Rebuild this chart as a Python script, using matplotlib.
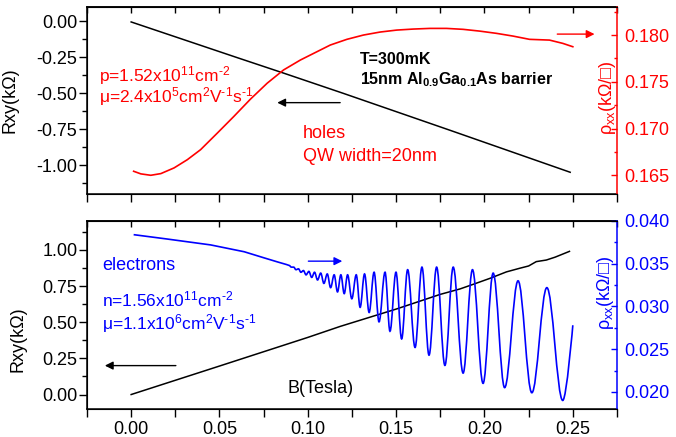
"""Hall / rho_xx traces for the hole and electron QW samples (two stacked panels)."""
import matplotlib
matplotlib.use("Agg")
import matplotlib.pyplot as plt
from matplotlib.path import Path
from matplotlib.patches import PathPatch
from matplotlib.ticker import MultipleLocator

plt.rcParams["font.family"] = ["Liberation Sans", "DejaVu Sans"]
plt.rcParams["mathtext.fontset"] = "custom"
plt.rcParams["mathtext.rm"] = "Liberation Sans"
plt.rcParams["mathtext.it"] = "Liberation Sans:italic"
plt.rcParams["mathtext.bf"] = "Liberation Sans:bold"
plt.rcParams["mathtext.fallback"] = "stixsans"
plt.rcParams["axes.unicode_minus"] = False

# ── data ───────────────────────────────────────────────────────────────────
# holes, top panel
hole_b = [0.0, 0.06, 0.0854, 0.12, 0.18, 0.2485]
hole_rxy = [-0.004, -0.252, -0.356, -0.500, -0.755, -1.049]
hole_rho_b = [0.0014, 0.0055, 0.0111, 0.0168, 0.0243, 0.0318, 0.0393, 0.0488, 0.0581,
              0.0675, 0.0770, 0.0863, 0.0958, 0.1052, 0.1127, 0.1221, 0.1315, 0.1409,
              0.1503, 0.1597, 0.1691, 0.1785, 0.1879, 0.1973, 0.2068, 0.2161, 0.2255,
              0.2368, 0.2443, 0.2500]
hole_rho = [0.16543, 0.16515, 0.16500, 0.16518, 0.16579, 0.16667, 0.16774, 0.16952, 0.17129,
            0.17314, 0.17485, 0.17627, 0.17733, 0.17822, 0.17893, 0.17954, 0.18000, 0.18032,
            0.18053, 0.18064, 0.18071, 0.18071, 0.18061, 0.18042, 0.18018, 0.17989, 0.17954,
            0.17946, 0.17911, 0.17875]

# electrons, bottom panel
elec_b = [0.0, 0.05, 0.10, 0.1183, 0.1503, 0.1748, 0.1861, 0.1936, 0.2030, 0.2124,
          0.2199, 0.2250, 0.2293, 0.2350, 0.2400, 0.2481]
elec_rxy = [0.0, 0.197, 0.395, 0.471, 0.592, 0.692, 0.730, 0.762, 0.803, 0.848,
            0.873, 0.889, 0.919, 0.930, 0.950, 0.990]
# smooth low-field part of rho_xx
elec_rho_b = [0.0014, 0.0200, 0.0450, 0.0640, 0.0750, 0.0830, 0.0880]
elec_rho = [0.0384, 0.0379, 0.0372, 0.0364, 0.0357, 0.0352, 0.0349]
# SdH oscillations: successive maxima / minima, then last point
sdh_b = [0.0894, 0.0907, 0.0920, 0.0933, 0.0947, 0.0961, 0.0975, 0.0990, 0.1006, 0.1022,
         0.1038, 0.1055, 0.1073, 0.1091, 0.1110, 0.1129, 0.1149, 0.1168, 0.1187, 0.1206,
         0.1225, 0.1249, 0.1274, 0.1296, 0.1321, 0.1347, 0.1375, 0.1403, 0.1437, 0.1465,
         0.1499, 0.1531, 0.1565, 0.1607, 0.1646, 0.1686, 0.1729, 0.1776, 0.1823, 0.1879,
         0.1932, 0.1992, 0.2049, 0.2114, 0.2190, 0.2268, 0.2353, 0.2443, 0.2500]
sdh_rho = [0.0348, 0.0346, 0.0346, 0.0343, 0.0344, 0.0340, 0.0342, 0.0337, 0.0341, 0.0334,
           0.0340, 0.0331, 0.0339, 0.0327, 0.0338, 0.0322, 0.0337, 0.0317, 0.0337, 0.0315,
           0.0337, 0.0309, 0.0337, 0.0299, 0.0338, 0.0293, 0.0340, 0.0282, 0.0340, 0.0271,
           0.0340, 0.0262, 0.0343, 0.0252, 0.0346, 0.0243, 0.0346, 0.0231, 0.0346, 0.0222,
           0.0343, 0.0210, 0.0339, 0.0205, 0.0330, 0.0199, 0.0322, 0.0190, 0.0278]

RED, BLUE = "#FF0000", "#0000FF"
TICK = 13


def style_host(ax, ylim, ymaj, ymin):
    ax.set_xlim(-0.025, 0.275)
    ax.set_ylim(*ylim)
    ax.xaxis.set_major_locator(MultipleLocator(0.05))
    ax.xaxis.set_minor_locator(MultipleLocator(0.025))
    ax.yaxis.set_major_locator(MultipleLocator(ymaj))
    ax.yaxis.set_minor_locator(MultipleLocator(ymin))
    ax.tick_params(axis="x", which="both", direction="out", length=5.5, width=1,
                   pad=3, labelsize=TICK)
    ax.tick_params(axis="y", which="major", direction="out", length=5.5, width=1,
                   pad=1.5, labelsize=TICK)
    ax.tick_params(axis="y", which="minor", direction="out", length=3.5, width=1)
    ax.spines["right"].set_visible(False)
    for s in ax.spines.values():
        s.set_linewidth(1.1)
    top = ax.secondary_xaxis("top")
    top.xaxis.set_major_locator(MultipleLocator(0.025))
    top.tick_params(axis="x", direction="in", length=4, width=1, labeltop=False)
    top.spines["top"].set_linewidth(1.1)
    ax.set_ylabel("Rxy(k\u03a9)", fontsize=13)


def style_right(axr, ylim, maj, mnr, color):
    axr.set_ylim(*ylim)
    axr.yaxis.set_major_locator(MultipleLocator(maj))
    axr.yaxis.set_minor_locator(MultipleLocator(mnr))
    axr.tick_params(axis="y", which="major", direction="in", length=4, width=1,
                    pad=5.5, colors=color, labelsize=TICK)
    axr.tick_params(axis="y", which="minor", direction="in", length=2.5, width=1, colors=color)
    axr.spines["right"].set_color(color)
    axr.spines["right"].set_linewidth(1.1)
    axr.set_ylabel("$\\mathregular{\\rho_{xx}}$(k\u03a9/\u25a1)", color=color, fontsize=13)


def arrow(ax, tail, head, color):
    ax.annotate("", xy=head, xytext=tail,
                arrowprops=dict(arrowstyle="-|>", color=color, lw=1.0,
                                mutation_scale=12, shrinkA=0, shrinkB=0))


def sdh_path(xs, ys, bx, by, k=0.364):
    # smooth part as straight segments, oscillation extrema joined by
    # cubic Beziers with flat tangents at every extremum
    verts = [(xs[0], ys[0])] + list(zip(xs[1:], ys[1:]))
    codes = [Path.MOVETO] + [Path.LINETO] * (len(xs) - 1)
    verts.append((bx[0], by[0])); codes.append(Path.LINETO)
    n = len(bx)
    for i in range(n - 1):
        x0, y0, x1, y1 = bx[i], by[i], bx[i + 1], by[i + 1]
        dx = x1 - x0
        c2 = (x1 - k * dx, y1) if i < n - 2 else (x1, y1)
        verts += [(x0 + k * dx, y0), c2, (x1, y1)]
        codes += [Path.CURVE4] * 3
    return Path(verts, codes)


fig = plt.figure(figsize=(6.76, 4.37), dpi=100)
ax1 = fig.add_axes([0.1287, 0.5561, 0.784, 0.4279])
ax2 = fig.add_axes([0.1287, 0.0641, 0.784, 0.4302])

# ── top panel: holes ──
style_host(ax1, (-1.2, 0.1), 0.25, 0.125)
ax1.tick_params(axis="x", labelbottom=False)
ax1.plot(hole_b, hole_rxy, color="k", lw=1.1)
ax1r = ax1.twinx()
style_right(ax1r, (0.163, 0.183), 0.005, 0.0025, RED)
ax1r.plot(hole_rho_b, hole_rho, color=RED, lw=1.2)
ax1.yaxis.set_label_coords(-0.13, 0.5)
ax1r.yaxis.set_label_coords(0.963, 0.516)

ax1.text(0.023, 0.636, "p=1.52x10$^{11}$cm$^{\\text{-2}}$", transform=ax1.transAxes,
         color=RED, fontsize=12.5, va="center")
ax1.text(0.023, 0.520, "\u03bc=2.4x10$^{5}$cm$^{2}$V$^{\\text{-1}}$s$^{\\text{-1}}$",
         transform=ax1.transAxes, color=RED, fontsize=12.5, va="center")
ax1.text(0.407, 0.325, "holes", transform=ax1.transAxes, color=RED, fontsize=13, va="center")
ax1.text(0.407, 0.200, "QW width=20nm", transform=ax1.transAxes, color=RED, fontsize=13,
         va="center")
ax1.text(0.515, 0.717, "T=300mK", transform=ax1.transAxes, fontsize=11.5, fontweight="bold",
         va="center")
ax1.text(0.515, 0.610, "$\\mathbf{15nm\\ Al_{0.9}Ga_{0.1}As\\ barrier}$",
         transform=ax1.transAxes, fontsize=11.5, va="center")
arrow(ax1, (0.1183, -0.565), (0.0827, -0.565), "k")
arrow(ax1r, (0.2412, 0.1801), (0.2623, 0.1801), RED)

# ── bottom panel: electrons ──
style_host(ax2, (-0.1, 1.2), 0.25, 0.125)
ax2.plot(elec_b, elec_rxy, color="k", lw=1.1)
ax2r = ax2.twinx()
style_right(ax2r, (0.018, 0.040), 0.005, 0.0025, BLUE)
ax2r.add_patch(PathPatch(sdh_path(elec_rho_b, elec_rho, sdh_b, sdh_rho),
                         facecolor="none", edgecolor=BLUE, lw=1.2))
ax2.yaxis.set_label_coords(-0.115, 0.37)
ax2r.yaxis.set_label_coords(0.958, 0.62)

ax2.text(0.029, 0.761, "electrons", transform=ax2.transAxes, color=BLUE, fontsize=13,
         va="center")
ax2.text(0.029, 0.580, "n=1.56x10$^{11}$cm$^{\\text{-2}}$", transform=ax2.transAxes,
         color=BLUE, fontsize=12.5, va="center")
ax2.text(0.029, 0.456, "\u03bc=1.1x10$^{6}$cm$^{2}$V$^{\\text{-1}}$s$^{\\text{-1}}$",
         transform=ax2.transAxes, color=BLUE, fontsize=12.5, va="center")
ax2.text(0.379, 0.110, "B(Tesla)", transform=ax2.transAxes, fontsize=13, va="center")
arrow(ax2, (0.0253, 0.200), (-0.0149, 0.200), "k")
arrow(ax2r, (0.1003, 0.0353), (0.1195, 0.0353), BLUE)

fig.savefig("out.png", dpi=100)
